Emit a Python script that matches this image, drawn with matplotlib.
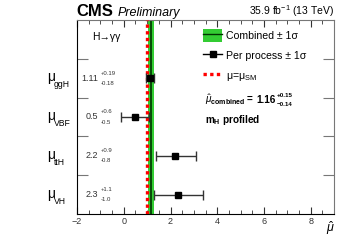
import matplotlib
matplotlib.use("Agg")
import matplotlib.pyplot as plt
from matplotlib.patches import Patch
from matplotlib.lines import Line2D
from matplotlib.ticker import MultipleLocator, FixedLocator

plt.rcParams['font.family'] = ['Liberation Sans', 'DejaVu Sans']
plt.rcParams['mathtext.fontset'] = 'custom'
plt.rcParams['mathtext.rm'] = 'Liberation Sans'
plt.rcParams['mathtext.it'] = 'Liberation Sans:italic'
plt.rcParams['mathtext.bf'] = 'Liberation Sans:bold'

processes = ["ggH", "VBF", "ttH", "VH"]
mu_vals = [1.11, 0.5, 2.2, 2.3]
err_up = [0.19, 0.6, 0.9, 1.1]
err_dn = [0.18, 0.6, 0.8, 1.0]
val_labels = ["1.11", "0.5", "2.2", "2.3"]
up_labels = ["+0.19", "+0.6", "+0.9", "+1.1"]
dn_labels = ["-0.18", "-0.5", "-0.8", "-1.0"]
comb_mu = 1.16
comb_up = 0.15
comb_dn = 0.14
sm_mu = 1.0

fig = plt.figure(figsize=(3.6, 2.44), dpi=100)
ax = fig.add_axes([0.214, 0.123, 0.714, 0.795])
ax.set_xlim(-2, 9)
ax.set_ylim(0, 5)

ypos = [3.5, 2.5, 1.5, 0.5]

ax.axvspan(comb_mu - comb_dn, comb_mu + comb_up, color='#33cc33', lw=0, zorder=1)
ax.axvline(comb_mu, color='#003300', lw=1.2, zorder=2)
ax.axvline(sm_mu, color='red', lw=2.4, ls=(0, (1.0, 1.0)), zorder=3)

ax.errorbar(mu_vals, ypos, xerr=[err_dn, err_up], fmt='s', color='black',
            ms=5, lw=1.0, capsize=3.5, capthick=1.0, zorder=4, ecolor='#333333')

for y, p, v, u, d in zip(ypos, processes, val_labels, up_labels, dn_labels):
    ax.text(-0.115, y + 0.02, "\u03bc", transform=ax.get_yaxis_transform(),
            ha='left', va='center', fontsize=10)
    ax.text(-0.09, y - 0.17, p, transform=ax.get_yaxis_transform(),
            ha='left', va='center', fontsize=6.2)
    ax.text(-1.08, y, v, ha='right', va='center', fontsize=6.5, color='#333333')
    ax.text(-0.98, y + 0.13, u, ha='left', va='center', fontsize=4.3, color='#333333')
    ax.text(-0.98, y - 0.13, d, ha='left', va='center', fontsize=4.3, color='#333333')

ax.text(-1.35, 4.56, "H\u2192\u03b3\u03b3", ha='left', va='center', fontsize=7.5)

ax.xaxis.set_major_locator(MultipleLocator(2))
ax.xaxis.set_minor_locator(MultipleLocator(0.5))
ax.yaxis.set_major_locator(FixedLocator([1, 2, 3, 4]))
ax.set_yticklabels([])
ax.tick_params(axis='x', which='major', direction='in', top=True, length=5, labelsize=6.5, pad=2, color='#333333', labelcolor='#333333')
ax.tick_params(axis='x', which='minor', direction='in', top=True, length=3, color='#333333')
ax.tick_params(axis='y', which='major', direction='in', right=True, length=8, color='#777777')
for s in ['right', 'top']:
    ax.spines[s].set_color('#777777')

handles = [
    (Patch(facecolor='#33cc33', edgecolor='none'), Line2D([], [], color='#003300', lw=1.0)),
    Line2D([], [], color='black', marker='s', ms=4.5, lw=1.0),
    Line2D([], [], color='red', lw=2.4, ls=(0, (1.0, 1.0))),
]
labels = ["Combined \u00b1 1\u03c3", "Per process \u00b1 1\u03c3", "\u03bc=\u03bc$_{\\mathregular{SM}}$"]
leg = ax.legend(handles, labels, loc='upper left', bbox_to_anchor=(0.462, 0.99),
                frameon=False, fontsize=7.6, handlelength=1.8, handleheight=1.4,
                handletextpad=0.4, labelspacing=0.75, borderaxespad=0.3)

ax.text(0.498, 0.588, "$\\hat{\\mu}_{\\mathregular{combined}}$ =", transform=ax.transAxes,
        ha='left', va='center', fontsize=7.2, fontweight='bold')
ax.text(0.697, 0.588, "1.16", transform=ax.transAxes,
        ha='left', va='center', fontsize=7.2, fontweight='bold')
ax.text(0.778, 0.613, "+0.15", transform=ax.transAxes, ha='left', va='center', fontsize=4.5, fontweight='bold')
ax.text(0.778, 0.563, "\u22120.14", transform=ax.transAxes, ha='left', va='center', fontsize=4.5, fontweight='bold')
ax.text(0.498, 0.485, "m$_{\\mathregular{H}}$ profiled", transform=ax.transAxes,
        ha='left', va='center', fontsize=7.2, fontweight='bold')

fig.text(0.212, 0.922, "CMS", ha='left', va='bottom', fontsize=12, fontweight='bold')
fig.text(0.328, 0.922, "Preliminary", ha='left', va='bottom', fontsize=9, style='italic')
fig.text(0.928, 0.922, "35.9 fb$^{-1}$ (13 TeV)", ha='right', va='bottom', fontsize=7.5)
fig.text(0.918, 0.03, "$\\hat{\\mu}$", ha='center', va='bottom', fontsize=9)

fig.savefig("out.png", dpi=100)
